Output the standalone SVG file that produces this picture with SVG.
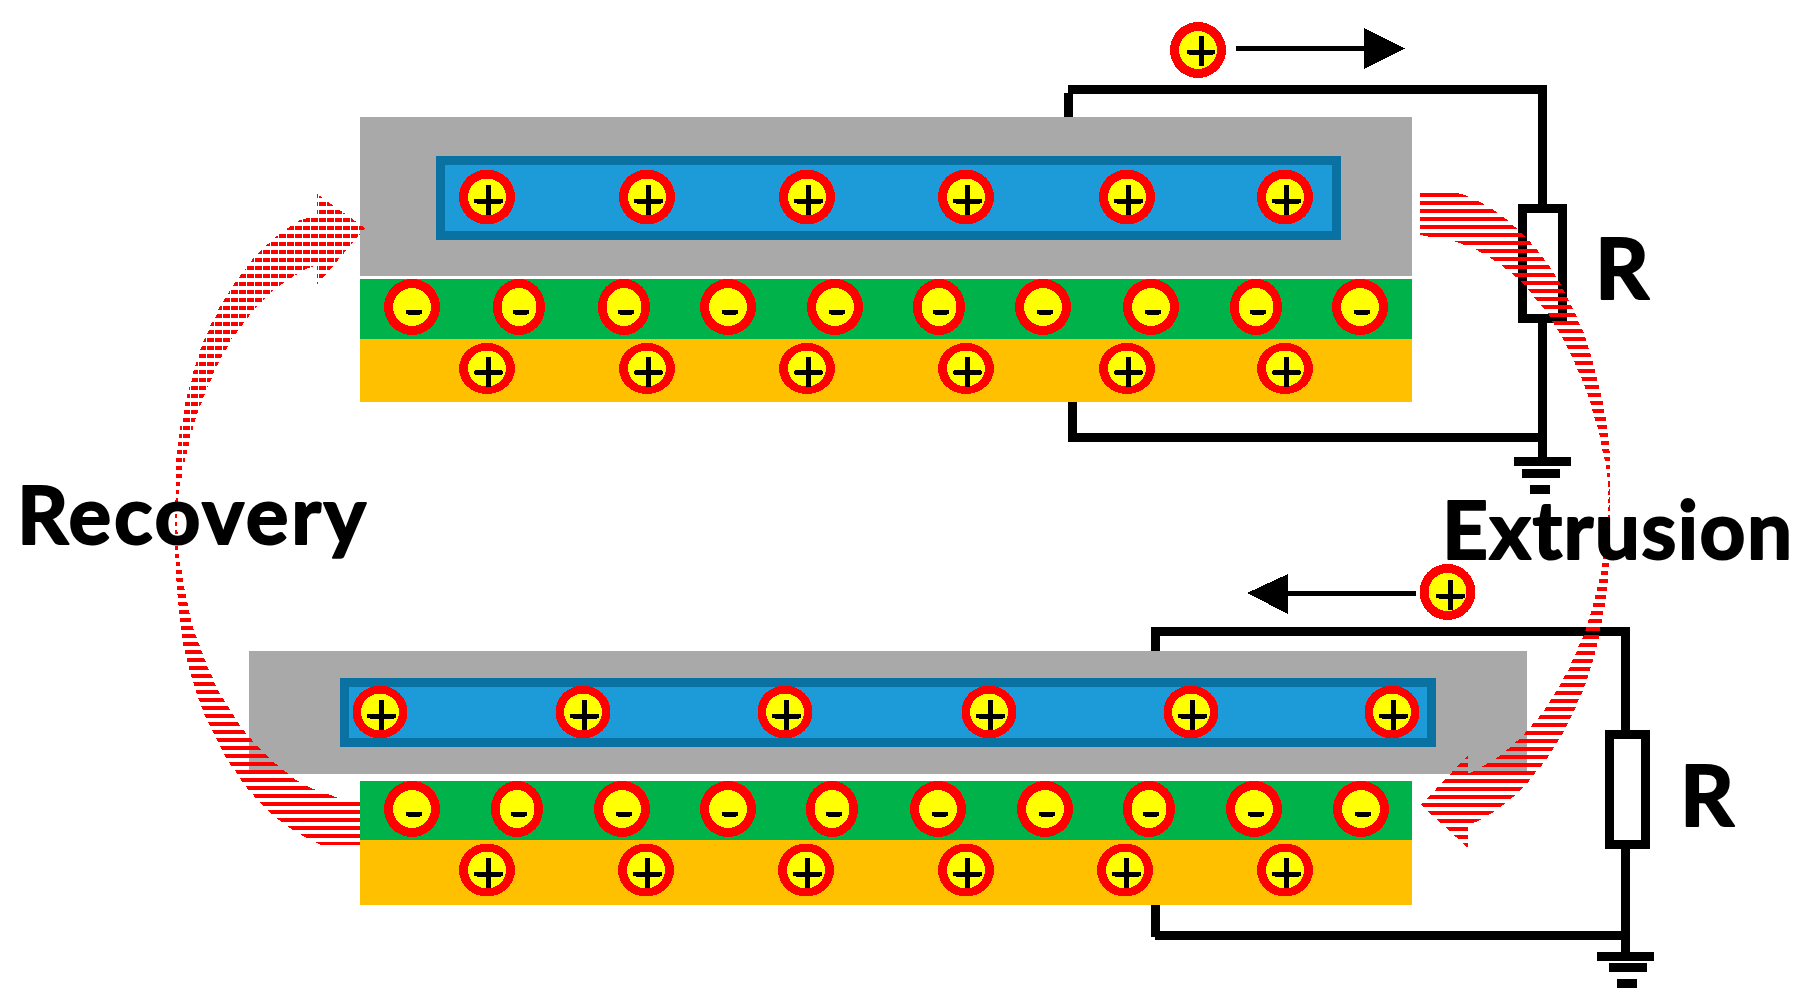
<svg xmlns="http://www.w3.org/2000/svg" xmlns:xlink="http://www.w3.org/1999/xlink" width="1818" height="1008" viewBox="0 0 1818 1008">
<style>
.gray{fill:#a9a9a9}.blue{fill:#1c9bd8;stroke:#0a71a3;stroke-width:9}.green{fill:#00b24a}.orange{fill:#ffc000}
.ring{fill:#f00}.core{fill:#ff0}.k{fill:#000}
.wire{fill:none;stroke:#000;stroke-width:9}.thin{fill:none;stroke:#000;stroke-width:5}
rect,ellipse,path,polygon{shape-rendering:crispEdges}
text{font-family:"Lato","Open Sans",sans-serif;font-weight:700;fill:#000;stroke:#000;stroke-width:2;stroke-linejoin:round}
</style>
<defs>
<pattern id="stripeA" patternUnits="userSpaceOnUse" x="0" y="193" width="8" height="8"><rect width="8" height="4" fill="#f00"/></pattern>
<pattern id="stripeB" patternUnits="userSpaceOnUse" x="0" y="803" width="8" height="8"><rect width="8" height="4" fill="#f00"/></pattern>
<pattern id="stripeC" patternUnits="userSpaceOnUse" x="0" y="802" width="8" height="8"><rect width="8" height="4" fill="#f00"/></pattern>
<pattern id="brick" patternUnits="userSpaceOnUse" x="319" y="194" width="8" height="8"><rect width="7" height="4" fill="#f00"/></pattern>
<g id="cross"><rect x="-13" y="1.5" width="29" height="5" rx="2.5"/><rect x="-1" y="-12" width="5" height="30"/></g>
<g id="minus"><rect x="-6" y="2.5" width="16" height="5" rx="2"/></g>
<g id="pTop"><ellipse class="ring" rx="28" ry="27.5"/><ellipse class="core" rx="19" ry="18.5"/><use href="#cross"/></g>
<g id="pOr"><ellipse class="ring" rx="28" ry="25.5"/><ellipse class="core" rx="19" ry="18"/><use href="#cross"/></g>
<g id="pBot"><ellipse class="ring" rx="27.5" ry="26.5"/><ellipse class="core" rx="19" ry="18.5"/><use href="#cross"/></g>
<g id="pOr2"><ellipse class="ring" rx="28" ry="26.5"/><ellipse class="core" rx="19" ry="18.5"/><use href="#cross"/></g>
<g id="mi"><ellipse class="ring" rx="28" ry="28"/><ellipse class="core" rx="19" ry="19"/><use href="#minus"/></g>
<g id="miN"><ellipse class="ring" rx="26" ry="28"/><ellipse class="core" rx="17.5" ry="19"/><use href="#minus"/></g>
</defs>
<rect width="1818" height="1008" fill="#fff"/>

<g id="device-top">
<rect class="gray" x="360" y="117" width="1052" height="159"/>
<rect class="blue" x="440.500" y="160.500" width="896" height="75"/>
<rect class="green" x="360" y="279" width="1052" height="60"/>
<rect class="orange" x="360" y="339" width="1052" height="63"/>
<use href="#pTop" x="487" y="197"/><use href="#pTop" x="647" y="197"/><use href="#pTop" x="807" y="197"/><use href="#pTop" x="966" y="197"/><use href="#pTop" x="1127" y="197"/><use href="#pTop" x="1285" y="197"/>
<use href="#mi" x="412" y="307"/><use href="#miN" x="519" y="307"/><use href="#miN" x="624" y="307"/><use href="#mi" x="728" y="307"/><use href="#mi" x="835" y="307"/><use href="#miN" x="939" y="307"/><use href="#mi" x="1043" y="307"/><use href="#mi" x="1151" y="307"/><use href="#miN" x="1256" y="307"/><use href="#mi" x="1360" y="307"/>
<use href="#pOr" x="487" y="368.500"/><use href="#pOr" x="647" y="368.500"/><use href="#pOr" x="807" y="368.500"/><use href="#pOr" x="966" y="368.500"/><use href="#pOr" x="1127" y="368.500"/><use href="#pOr" x="1285" y="368.500"/>
</g>

<g id="device-bottom">
<rect class="gray" x="249" y="651" width="1278" height="123"/>
<rect class="blue" x="344.500" y="682.500" width="1087" height="60"/>
<rect class="green" x="360" y="781" width="1052" height="59"/>
<rect class="orange" x="360" y="840" width="1052" height="65"/>
<use href="#pBot" x="380" y="712"/><use href="#pBot" x="583" y="712"/><use href="#pBot" x="785" y="712"/><use href="#pBot" x="989" y="712"/><use href="#pBot" x="1191" y="712"/><use href="#pBot" x="1392" y="712"/>
<use href="#mi" x="412" y="809"/><use href="#miN" x="517" y="809"/><use href="#mi" x="622" y="809"/><use href="#mi" x="728" y="809"/><use href="#miN" x="832" y="809"/><use href="#mi" x="938" y="809"/><use href="#mi" x="1045" y="809"/><use href="#miN" x="1149" y="809"/><use href="#mi" x="1254" y="809"/><use href="#mi" x="1361" y="809"/>
<use href="#pOr2" x="487" y="870"/><use href="#pOr2" x="646" y="870"/><use href="#pOr2" x="806" y="870"/><use href="#pOr2" x="966" y="870"/><use href="#pOr2" x="1125" y="870"/><use href="#pOr2" x="1285" y="870"/>
</g>

<g id="connectors">
<path class="wire" d="M1068.500 117V93"/><path class="wire" d="M1068 89.500H1542.500V204"/><path class="wire" d="M1542.500 323V457"/>
<path class="wire" d="M1072.500 402V437.500H1542"/>
<path class="wire" d="M1155.500 651V631.500H1625.500V730"/><path class="wire" d="M1625.500 849V952"/>
<path class="wire" d="M1155.500 905V937"/><path class="wire" d="M1155 935.500H1625"/>
<path class="thin" d="M1236 48.500H1366"/><polygon class="k" points="1364,28 1405,48.500 1364,69"/>
<path class="thin" d="M1416 593H1285"/><polygon class="k" points="1288,574 1247,593 1288,614"/>
</g>

<g id="resistor-top"><rect x="1522.500" y="208.500" width="40" height="110" fill="#fff" stroke="#000" stroke-width="9"/></g>
<g id="ground-top"><rect class="k" x="1514" y="457" width="57" height="9"/><rect class="k" x="1522" y="469" width="38" height="9"/><rect class="k" x="1530" y="485" width="20" height="9"/></g>
<g id="resistor-bottom"><rect x="1609.500" y="734.500" width="36" height="110" fill="#fff" stroke="#000" stroke-width="9"/></g>
<g id="ground-bottom"><rect class="k" x="1597" y="952" width="57" height="9"/><rect class="k" x="1609" y="963" width="38" height="9"/><rect class="k" x="1617" y="979" width="20" height="9"/></g>

<g id="ion-moving-top" transform="translate(1198 50)"><ellipse class="ring" rx="28" ry="28"/><ellipse class="core" rx="19" ry="19"/><use href="#cross" x="1.500" y="-2"/></g>
<g id="ion-moving-bottom" transform="translate(1447.500 592)"><ellipse class="ring" rx="28" ry="28"/><ellipse class="core" rx="19" ry="19"/><use href="#cross" x="1.500"/></g>

<g id="arrow-extrusion">
<polygon fill="url(#stripeA)" points="1420,193 1457,193 1465,195 1482,203 1495,211 1506,219 1515,227 1524,235 1531,243 1538,251 1544,259 1550,267 1555,275 1560,283 1564,291 1568,299 1572,307 1576,315 1579,323 1583,331 1586,339 1588,347 1591,355 1593,363 1595,371 1597,379 1599,387 1601,395 1603,403 1604,411 1606,419 1607,427 1608,435 1609,443 1610,459 1610,510 1609,510 1609,489 1608,481 1607,473 1606,465 1604,457 1602,449 1601,441 1599,433 1597,425 1594,417 1592,409 1590,401 1587,393 1584,385 1581,377 1577,369 1574,361 1570,353 1566,345 1562,337 1557,329 1552,321 1548,313 1541,305 1534,297 1528,289 1520,281 1511,273 1501,265 1489,257 1475,249 1454,241 1430,237 1420,235"/>
<polygon fill="url(#stripeB)" points="1610,480 1610,545 1609,565 1608,573 1608,581 1607,589 1606,597 1605,605 1603,613 1602,621 1600,629 1599,637 1597,645 1595,653 1593,661 1590,669 1588,677 1585,685 1582,693 1578,701 1575,709 1571,717 1567,725 1563,733 1558,741 1553,749 1548,757 1542,765 1535,773 1529,781 1522,789 1513,797 1503,805 1492,813 1478,821 1468,825 1468,848 1421,805 1468,755 1468,773 1470,773 1485,765 1498,757 1508,749 1517,741 1525,733 1532,725 1539,717 1545,709 1550,701 1555,693 1560,685 1564,677 1569,669 1572,661 1576,653 1579,645 1583,637 1586,629 1588,621 1591,613 1593,605 1595,597 1597,589 1599,581 1601,573 1602,565 1606,545 1608,510 1608,480"/>
</g>

<g id="arrow-recovery">
<polygon fill="url(#brick)" points="317,194 365,228 317,285 317,265 308,268 294,276 282,284 271,292 263,300 255,308 249,316 243,324 237,332 231,340 227,348 222,356 218,364 214,372 211,380 207,388 204,396 201,404 198,412 195,420 193,428 191,436 189,444 187,452 185,460 183,468 182,476 180,484 179,490 178,500 177,520 175,520 175.500,500 176,468 176,460 177,452 178,444 179,436 180,428 182,420 184,412 185,404 187,396 189,388 192,380 193,372 196,364 198,356 201,348 204,340 208,332 211,324 216,316 219,308 224,300 229,292 234,284 240,276 246,268 252,260 259,252 268,244 277,236 288,228 300,220 317,216"/>
<polygon fill="url(#stripeC)" points="175,515 177,515 178,548 180,564 182,572 184,587 188,605 191,620 193,628 196,636 199,644 202,652 205,660 208,668 212,676 215,684 219,692 224,700 229,708 234,716 239,724 245,732 252,740 259,748 267,756 276,764 286,772 296,780 311,788 333,796 345,801 360,801 360,845 321,845 303,836 290,828 279,820 269,812 261,804 254,796 247,788 241,780 236,772 230,764 225,756 221,748 217,740 213,732 209,724 205,716 202,708 199,700 196,692 194,684 191,676 189,668 187,660 185,652 183,644 182,636 181,628 180,620 177,590 176,572 175,548"/>
</g>

<g id="labels">
<text x="1595" y="299" font-size="84">R</text>
<text x="1680" y="826" font-size="84">R</text>
<text x="17" y="544" font-size="80" textLength="349">Recovery</text>
<text x="1442" y="559" font-size="80" textLength="350">Extrusion</text>
</g>
</svg>
